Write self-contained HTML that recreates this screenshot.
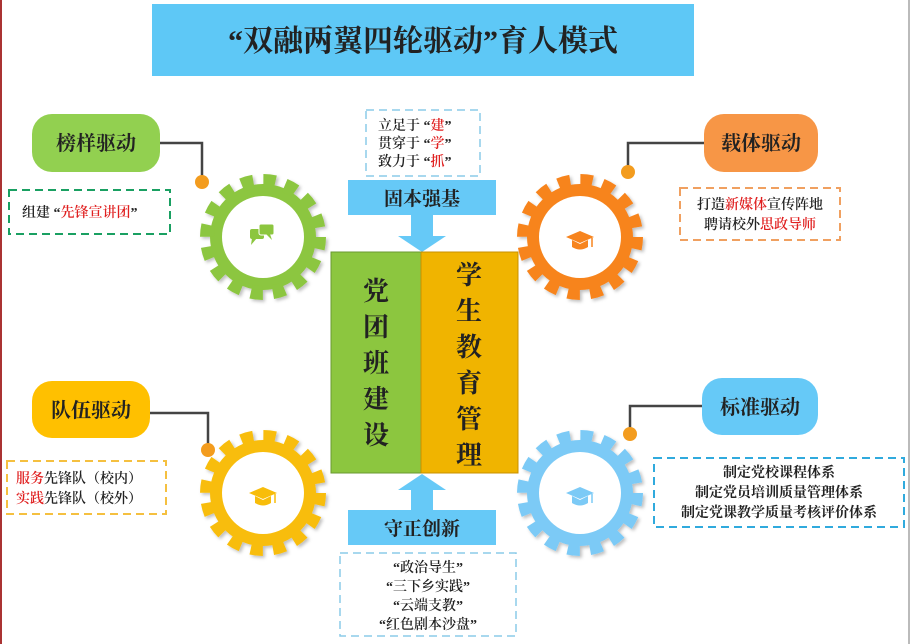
<!DOCTYPE html>
<html><head><meta charset="utf-8"><style>
body{margin:0;width:910px;height:644px;overflow:hidden;background:#fff;font-family:"Liberation Serif","Noto Serif CJK SC",serif;}
svg{position:absolute;left:0;top:0}
</style></head><body>
<svg width="910" height="644" viewBox="0 0 910 644" xmlns="http://www.w3.org/2000/svg" font-family="'Liberation Serif','Noto Serif CJK SC',serif">
<defs>
<filter id="sh" x="-20%" y="-20%" width="140%" height="140%"><feDropShadow dx="2" dy="2" stdDeviation="1.5" flood-color="#000" flood-opacity="0.25"/></filter>
<g id="cap"><path d="M-14,-3 L0,-9 L14,-3 L0,3 Z" fill="currentColor"/><path d="M-8,0 L-8,7 Q0,12 8,7 L8,0 L0,4 Z" fill="currentColor"/><path d="M12,-2 L12,7" stroke="currentColor" stroke-width="1.5"/></g>
</defs>
<rect x="0" y="0" width="2" height="644" fill="#a33"/>
<rect x="908" y="0" width="2" height="644" fill="#bbb"/>
<rect x="152" y="4" width="542" height="72" fill="#5ec8f6"/>
<text x="423" y="51" font-size="30" text-anchor="middle" fill="#222" font-weight="bold">“双融两翼四轮驱动”育人模式</text>

<g filter="url(#sh)">
<g transform="translate(263,237)"><circle r="53" fill="#8cc63f"/><circle r="56" fill="none" stroke="#8cc63f" stroke-width="14" stroke-dasharray="12 10"/><circle r="41" fill="#fff"/></g>
<g transform="translate(580,237)"><circle r="53" fill="#f7841e"/><circle r="56" fill="none" stroke="#f7841e" stroke-width="14" stroke-dasharray="12 10"/><circle r="41" fill="#fff"/></g>
<g transform="translate(263,493)"><circle r="53" fill="#f8bd0a"/><circle r="56" fill="none" stroke="#f8bd0a" stroke-width="14" stroke-dasharray="12 10"/><circle r="41" fill="#fff"/></g>
<g transform="translate(580,493)"><circle r="53" fill="#7ccaf6"/><circle r="56" fill="none" stroke="#7ccaf6" stroke-width="14" stroke-dasharray="12 10"/><circle r="41" fill="#fff"/></g>
</g>
<g fill="#8cc63f"><rect x="250" y="229" width="14" height="10" rx="2"/><path d="M252,238 L251,245 L257,238Z"/><rect x="259" y="224" width="15" height="11" rx="2" stroke="#fff" stroke-width="1"/><path d="M270,234 L272,240 L266,234Z"/></g>
<use href="#cap" x="580" y="240" color="#f7841e"/>
<use href="#cap" x="263" y="496" color="#f8bd0a"/>
<use href="#cap" x="580" y="496" color="#7ccaf6"/>

<g stroke="#444" stroke-width="2.5" fill="none">
<path d="M160,143 H202 V180"/><path d="M704,143 H628 V170"/>
<path d="M150,413 H208 V448"/><path d="M702,406 H630 V432"/>
</g>
<g fill="#f39c1e"><circle cx="202" cy="182" r="7"/><circle cx="628" cy="172" r="7"/><circle cx="208" cy="450" r="7"/><circle cx="630" cy="434" r="7"/></g>

<g font-size="20" text-anchor="middle" fill="#222" font-weight="bold">
<rect x="32" y="114" width="128" height="58" rx="20" fill="#92d050"/>
<text x="96" y="150">榜样驱动</text>
<rect x="704" y="114" width="114" height="58" rx="20" fill="#f79646"/>
<text x="761" y="150">载体驱动</text>
<rect x="32" y="381" width="118" height="57" rx="20" fill="#ffc000"/>
<text x="91" y="417">队伍驱动</text>
<rect x="702" y="378" width="116" height="57" rx="20" fill="#66c9f7"/>
<text x="760" y="414">标准驱动</text>
</g>

<g fill="none" stroke-width="2" stroke-dasharray="8 5">
<rect x="9" y="190" width="161" height="44" stroke="#1aa062"/>
<rect x="680" y="188" width="160" height="52" stroke="#f0a060"/>
<rect x="7" y="461" width="159" height="53" stroke="#f5c040"/>
<rect x="654" y="458" width="250" height="69" stroke="#30aadd"/>
<rect x="366" y="110" width="114" height="66" stroke="#8ccbe8" stroke-width="1.5"/>
<rect x="340" y="553" width="176" height="83" stroke="#8ccbe8" stroke-width="1.5"/>
</g>
<g font-size="14" fill="#222" font-weight="600">
<text x="22" y="217">组建 “<tspan fill="#e02020">先锋宣讲团</tspan>”</text>
<text x="760" y="209" text-anchor="middle">打造<tspan fill="#e02020">新媒体</tspan>宣传阵地</text>
<text x="760" y="229" text-anchor="middle">聘请校外<tspan fill="#e02020">思政导师</tspan></text>
<text x="16" y="483"><tspan fill="#e02020">服务</tspan>先锋队（校内）</text>
<text x="16" y="503"><tspan fill="#e02020">实践</tspan>先锋队（校外）</text>
<g font-weight="bold">
<text x="779" y="477" text-anchor="middle">制定党校课程体系</text>
<text x="779" y="497" text-anchor="middle">制定党员培训质量管理体系</text>
<text x="779" y="517" text-anchor="middle">制定党课教学质量考核评价体系</text>
</g>
<text x="378" y="130">立足于 “<tspan fill="#e02020">建</tspan>”</text>
<text x="378" y="148">贯穿于 “<tspan fill="#e02020">学</tspan>”</text>
<text x="378" y="166">致力于 “<tspan fill="#e02020">抓</tspan>”</text>
<text x="428" y="572" text-anchor="middle">“政治导生”</text>
<text x="428" y="591" text-anchor="middle">“三下乡实践”</text>
<text x="428" y="610" text-anchor="middle">“云端支教”</text>
<text x="428" y="629" text-anchor="middle">“红色剧本沙盘”</text>
</g>

<rect x="348" y="180" width="148" height="35" fill="#66c9f7"/>
<text x="422" y="205" font-size="19" text-anchor="middle" fill="#222" font-weight="bold">固本强基</text>
<path d="M411,215 H433 V236 H446 L422,252 L398,236 H411 Z" fill="#66c9f7"/>
<rect x="348" y="510" width="148" height="35" fill="#66c9f7"/>
<text x="422" y="535" font-size="19" text-anchor="middle" fill="#222" font-weight="bold">守正创新</text>
<path d="M411,510 H433 V490 H446 L422,474 L398,490 H411 Z" fill="#66c9f7"/>

<rect x="331" y="252" width="90" height="221" fill="#8cc63f" stroke="#6a9a30"/>
<rect x="421" y="252" width="97" height="221" fill="#f0b400" stroke="#c89000"/>
<g font-size="26" fill="#222" text-anchor="middle" font-weight="bold">
<text x="376" y="300">党</text><text x="376" y="336">团</text><text x="376" y="372">班</text><text x="376" y="408">建</text><text x="376" y="444">设</text>
<text x="469" y="284">学</text><text x="469" y="320">生</text><text x="469" y="356">教</text><text x="469" y="392">育</text><text x="469" y="428">管</text><text x="469" y="464">理</text>
</g>
</svg>
</body></html>
